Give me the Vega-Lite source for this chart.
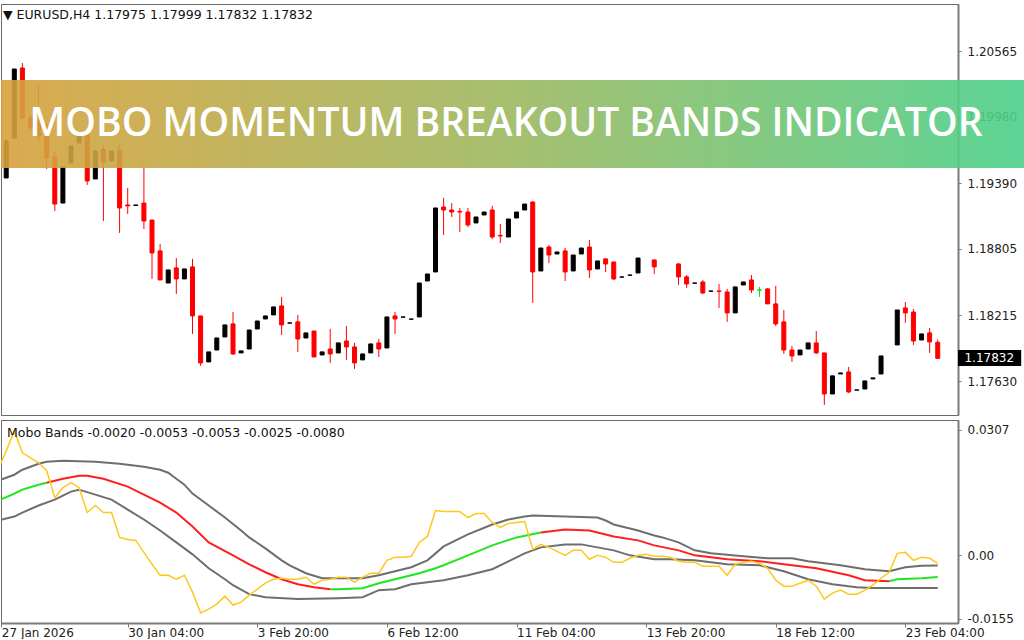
{
"$schema": "https://vega.github.io/schema/vega-lite/v6.json",
"background": "white",
"padding": {"left": 0, "right": 0, "top": 3, "bottom": 0},
"spacing": 3,
"config": {
 "view": {"stroke": "#6a6a6a", "strokeWidth": 1},
 "axis": {"labelFont": "DejaVu Sans", "labelFontSize": 12, "labelColor": "#222222", "domainColor": "#7a7a7a", "tickColor": "#7a7a7a", "grid": false, "title": null}
},
"datasets": {
 "candles": [
  {"i":1,"o":1.19436,"h":1.19780,"l":1.19436,"c":1.19765,"t":"bull"},
  {"i":2,"o":1.19791,"h":1.20405,"l":1.19791,"c":1.20405,"t":"bull"},
  {"i":3,"o":1.20414,"h":1.20458,"l":1.19960,"c":1.19969,"t":"bear"},
  {"i":4,"o":1.19969,"h":1.20000,"l":1.19850,"c":1.19880,"t":"bear"},
  {"i":5,"o":1.19951,"h":1.20254,"l":1.19765,"c":1.19809,"t":"bear"},
  {"i":6,"o":1.19898,"h":1.19925,"l":1.19516,"c":1.19614,"t":"bear"},
  {"i":7,"o":1.19622,"h":1.19676,"l":1.19142,"c":1.19204,"t":"bear"},
  {"i":8,"o":1.19213,"h":1.19534,"l":1.19213,"c":1.19534,"t":"bull"},
  {"i":9,"o":1.19569,"h":1.19720,"l":1.19569,"c":1.19720,"t":"bull"},
  {"i":10,"o":1.19747,"h":1.19818,"l":1.19747,"c":1.19818,"t":"bull"},
  {"i":11,"o":1.19836,"h":1.19871,"l":1.19374,"c":1.19409,"t":"bear"},
  {"i":12,"o":1.19427,"h":1.19676,"l":1.19427,"c":1.19676,"t":"bull"},
  {"i":13,"o":1.19694,"h":1.19729,"l":1.19053,"c":1.19578,"t":"bear"},
  {"i":14,"o":1.19587,"h":1.19676,"l":1.19587,"c":1.19676,"t":"bull"},
  {"i":15,"o":1.19685,"h":1.19738,"l":1.18947,"c":1.19169,"t":"bear"},
  {"i":16,"o":1.19196,"h":1.19347,"l":1.19116,"c":1.19187,"t":"bear"},
  {"i":17,"o":1.19191,"h":1.19196,"l":1.19191,"c":1.19196,"t":"bull"},
  {"i":18,"o":1.19213,"h":1.19543,"l":1.18982,"c":1.19053,"t":"bear"},
  {"i":19,"o":1.19062,"h":1.19062,"l":1.18538,"c":1.18769,"t":"bear"},
  {"i":20,"o":1.18787,"h":1.18849,"l":1.18529,"c":1.18529,"t":"bear"},
  {"i":21,"o":1.18502,"h":1.18618,"l":1.18502,"c":1.18618,"t":"bull"},
  {"i":22,"o":1.18636,"h":1.18724,"l":1.18404,"c":1.18538,"t":"bear"},
  {"i":23,"o":1.18538,"h":1.18627,"l":1.18538,"c":1.18627,"t":"bull"},
  {"i":24,"o":1.18645,"h":1.18716,"l":1.18049,"c":1.18209,"t":"bear"},
  {"i":25,"o":1.18209,"h":1.18209,"l":1.17765,"c":1.17791,"t":"bear"},
  {"i":26,"o":1.17800,"h":1.17889,"l":1.17800,"c":1.17889,"t":"bull"},
  {"i":27,"o":1.17906,"h":1.18013,"l":1.17906,"c":1.18013,"t":"bull"},
  {"i":28,"o":1.18022,"h":1.18129,"l":1.18022,"c":1.18129,"t":"bull"},
  {"i":29,"o":1.18138,"h":1.18244,"l":1.17862,"c":1.17871,"t":"bear"},
  {"i":30,"o":1.17880,"h":1.17898,"l":1.17880,"c":1.17898,"t":"bull"},
  {"i":31,"o":1.17915,"h":1.18084,"l":1.17915,"c":1.18084,"t":"bull"},
  {"i":32,"o":1.18093,"h":1.18164,"l":1.18093,"c":1.18164,"t":"bull"},
  {"i":33,"o":1.18182,"h":1.18209,"l":1.18182,"c":1.18209,"t":"bull"},
  {"i":34,"o":1.18218,"h":1.18289,"l":1.18218,"c":1.18289,"t":"bull"},
  {"i":35,"o":1.18298,"h":1.18378,"l":1.18040,"c":1.18129,"t":"bear"},
  {"i":36,"o":1.18145,"h":1.18147,"l":1.18145,"c":1.18147,"t":"bull"},
  {"i":37,"o":1.18156,"h":1.18218,"l":1.17889,"c":1.18004,"t":"bear"},
  {"i":38,"o":1.18013,"h":1.18058,"l":1.18013,"c":1.18058,"t":"bull"},
  {"i":39,"o":1.18075,"h":1.18075,"l":1.17844,"c":1.17844,"t":"bear"},
  {"i":40,"o":1.17862,"h":1.17889,"l":1.17862,"c":1.17889,"t":"bull"},
  {"i":41,"o":1.17915,"h":1.18093,"l":1.17791,"c":1.17871,"t":"bear"},
  {"i":42,"o":1.17880,"h":1.17969,"l":1.17880,"c":1.17969,"t":"bull"},
  {"i":43,"o":1.17986,"h":1.18120,"l":1.17818,"c":1.17933,"t":"bear"},
  {"i":44,"o":1.17933,"h":1.17969,"l":1.17738,"c":1.17791,"t":"bear"},
  {"i":45,"o":1.17818,"h":1.17871,"l":1.17818,"c":1.17871,"t":"bull"},
  {"i":46,"o":1.17880,"h":1.17960,"l":1.17880,"c":1.17960,"t":"bull"},
  {"i":47,"o":1.17969,"h":1.18004,"l":1.17844,"c":1.17915,"t":"bear"},
  {"i":48,"o":1.17924,"h":1.18200,"l":1.17924,"c":1.18200,"t":"bull"},
  {"i":49,"o":1.18209,"h":1.18244,"l":1.18049,"c":1.18182,"t":"bear"},
  {"i":50,"o":1.18198,"h":1.18200,"l":1.18198,"c":1.18200,"t":"bull"},
  {"i":51,"o":1.18180,"h":1.18182,"l":1.18180,"c":1.18182,"t":"bull"},
  {"i":52,"o":1.18200,"h":1.18502,"l":1.18200,"c":1.18502,"t":"bull"},
  {"i":53,"o":1.18520,"h":1.18582,"l":1.18520,"c":1.18582,"t":"bull"},
  {"i":54,"o":1.18600,"h":1.19169,"l":1.18600,"c":1.19169,"t":"bull"},
  {"i":55,"o":1.19178,"h":1.19258,"l":1.18929,"c":1.19151,"t":"bear"},
  {"i":56,"o":1.19151,"h":1.19213,"l":1.19089,"c":1.19133,"t":"bear"},
  {"i":57,"o":1.19138,"h":1.19169,"l":1.18956,"c":1.19133,"t":"bear"},
  {"i":58,"o":1.19133,"h":1.19169,"l":1.19000,"c":1.19018,"t":"bear"},
  {"i":59,"o":1.19036,"h":1.19089,"l":1.19036,"c":1.19089,"t":"bull"},
  {"i":60,"o":1.19107,"h":1.19133,"l":1.19107,"c":1.19133,"t":"bull"},
  {"i":61,"o":1.19151,"h":1.19187,"l":1.18893,"c":1.18911,"t":"bear"},
  {"i":62,"o":1.18925,"h":1.19027,"l":1.18858,"c":1.18920,"t":"bear"},
  {"i":63,"o":1.18911,"h":1.19071,"l":1.18911,"c":1.19071,"t":"bull"},
  {"i":64,"o":1.19080,"h":1.19133,"l":1.19080,"c":1.19133,"t":"bull"},
  {"i":65,"o":1.19151,"h":1.19204,"l":1.19151,"c":1.19204,"t":"bull"},
  {"i":66,"o":1.19222,"h":1.19231,"l":1.18324,"c":1.18600,"t":"bear"},
  {"i":67,"o":1.18609,"h":1.18813,"l":1.18609,"c":1.18813,"t":"bull"},
  {"i":68,"o":1.18822,"h":1.18840,"l":1.18680,"c":1.18751,"t":"bear"},
  {"i":69,"o":1.18760,"h":1.18778,"l":1.18760,"c":1.18778,"t":"bull"},
  {"i":70,"o":1.18787,"h":1.18813,"l":1.18520,"c":1.18600,"t":"bear"},
  {"i":71,"o":1.18609,"h":1.18751,"l":1.18609,"c":1.18751,"t":"bull"},
  {"i":72,"o":1.18760,"h":1.18813,"l":1.18760,"c":1.18813,"t":"bull"},
  {"i":73,"o":1.18822,"h":1.18884,"l":1.18547,"c":1.18618,"t":"bear"},
  {"i":74,"o":1.18627,"h":1.18698,"l":1.18627,"c":1.18698,"t":"bull"},
  {"i":75,"o":1.18716,"h":1.18724,"l":1.18600,"c":1.18671,"t":"bear"},
  {"i":76,"o":1.18689,"h":1.18689,"l":1.18529,"c":1.18538,"t":"bear"},
  {"i":77,"o":1.18554,"h":1.18556,"l":1.18554,"c":1.18556,"t":"bull"},
  {"i":78,"o":1.18571,"h":1.18573,"l":1.18571,"c":1.18573,"t":"bull"},
  {"i":79,"o":1.18591,"h":1.18724,"l":1.18591,"c":1.18724,"t":"bull"},
  {"i":81,"o":1.18707,"h":1.18707,"l":1.18582,"c":1.18645,"t":"bear"},
  {"i":84,"o":1.18671,"h":1.18680,"l":1.18484,"c":1.18556,"t":"bear"},
  {"i":85,"o":1.18556,"h":1.18573,"l":1.18458,"c":1.18493,"t":"bear"},
  {"i":86,"o":1.18500,"h":1.18502,"l":1.18500,"c":1.18502,"t":"bull"},
  {"i":87,"o":1.18511,"h":1.18529,"l":1.18404,"c":1.18413,"t":"bear"},
  {"i":88,"o":1.18429,"h":1.18431,"l":1.18429,"c":1.18431,"t":"bull"},
  {"i":89,"o":1.18431,"h":1.18493,"l":1.18280,"c":1.18427,"t":"bear"},
  {"i":90,"o":1.18422,"h":1.18449,"l":1.18156,"c":1.18236,"t":"bear"},
  {"i":91,"o":1.18236,"h":1.18467,"l":1.18236,"c":1.18467,"t":"bull"},
  {"i":92,"o":1.18484,"h":1.18511,"l":1.18484,"c":1.18511,"t":"bull"},
  {"i":93,"o":1.18529,"h":1.18573,"l":1.18413,"c":1.18440,"t":"bear"},
  {"i":94,"o":1.18441,"h":1.18467,"l":1.18378,"c":1.18439,"t":"flat"},
  {"i":95,"o":1.18449,"h":1.18458,"l":1.18316,"c":1.18316,"t":"bear"},
  {"i":96,"o":1.18316,"h":1.18476,"l":1.18120,"c":1.18138,"t":"bear"},
  {"i":97,"o":1.18156,"h":1.18262,"l":1.17871,"c":1.17906,"t":"bear"},
  {"i":98,"o":1.17906,"h":1.17942,"l":1.17800,"c":1.17853,"t":"bear"},
  {"i":99,"o":1.17862,"h":1.17906,"l":1.17862,"c":1.17906,"t":"bull"},
  {"i":100,"o":1.17915,"h":1.17969,"l":1.17915,"c":1.17969,"t":"bull"},
  {"i":101,"o":1.17969,"h":1.18075,"l":1.17871,"c":1.17880,"t":"bear"},
  {"i":102,"o":1.17880,"h":1.17880,"l":1.17417,"c":1.17515,"t":"bear"},
  {"i":103,"o":1.17515,"h":1.17676,"l":1.17515,"c":1.17676,"t":"bull"},
  {"i":104,"o":1.17693,"h":1.17702,"l":1.17693,"c":1.17702,"t":"bull"},
  {"i":105,"o":1.17711,"h":1.17756,"l":1.17524,"c":1.17533,"t":"bear"},
  {"i":106,"o":1.17549,"h":1.17551,"l":1.17549,"c":1.17551,"t":"bull"},
  {"i":107,"o":1.17559,"h":1.17631,"l":1.17559,"c":1.17631,"t":"bull"},
  {"i":108,"o":1.17649,"h":1.17658,"l":1.17649,"c":1.17658,"t":"bull"},
  {"i":109,"o":1.17693,"h":1.17853,"l":1.17693,"c":1.17853,"t":"bull"},
  {"i":111,"o":1.17951,"h":1.18262,"l":1.17951,"c":1.18262,"t":"bull"},
  {"i":112,"o":1.18280,"h":1.18333,"l":1.18147,"c":1.18236,"t":"bear"},
  {"i":113,"o":1.18244,"h":1.18271,"l":1.17951,"c":1.17986,"t":"bear"},
  {"i":114,"o":1.17995,"h":1.18049,"l":1.17995,"c":1.18049,"t":"bull"},
  {"i":115,"o":1.18058,"h":1.18102,"l":1.17880,"c":1.17978,"t":"bear"},
  {"i":116,"o":1.17975,"h":1.17999,"l":1.17832,"c":1.17832,"t":"bear"}
 ],
 "mom": [
  {"i":0,"v":0.02100},{"i":1,"v":0.02559},{"i":2,"v":0.03046},{"i":3,"v":0.02510},{"i":4,"v":0.02388},{"i":5,"v":0.02266},{"i":6,"v":0.02071},{"i":7,"v":0.01413},{"i":8,"v":0.01657},{"i":9,"v":0.01779},{"i":10,"v":0.01657},{"i":11,"v":0.01048},{"i":12,"v":0.01219},{"i":13,"v":0.01048},{"i":14,"v":0.01048},{"i":15,"v":0.00439},{"i":16,"v":0.00390},{"i":17,"v":0.00366},{"i":18,"v":0.00073},{"i":19,"v":-0.00219},{"i":20,"v":-0.00487},{"i":21,"v":-0.00487},{"i":22,"v":-0.00585},{"i":23,"v":-0.00487},{"i":24,"v":-0.00902},{"i":25,"v":-0.01413},{"i":26,"v":-0.01316},{"i":27,"v":-0.01194},{"i":28,"v":-0.00999},{"i":29,"v":-0.01218},{"i":30,"v":-0.01145},{"i":31,"v":-0.00975},{"i":32,"v":-0.00829},{"i":33,"v":-0.00682},{"i":34,"v":-0.00585},{"i":35,"v":-0.00561},{"i":36,"v":-0.00585},{"i":37,"v":-0.00585},{"i":38,"v":-0.00536},{"i":39,"v":-0.00707},{"i":40,"v":-0.00609},{"i":41,"v":-0.00585},{"i":42,"v":-0.00536},{"i":43,"v":-0.00536},{"i":44,"v":-0.00658},{"i":45,"v":-0.00536},{"i":46,"v":-0.00439},{"i":47,"v":-0.00439},{"i":48,"v":-0.00122},{"i":49,"v":-0.00049},{"i":50,"v":-0.00049},{"i":51,"v":-0.00024},{"i":52,"v":0.00317},{"i":53,"v":0.00463},{"i":54,"v":0.01097},{"i":55,"v":0.01072},{"i":56,"v":0.01072},{"i":57,"v":0.01072},{"i":58,"v":0.00926},{"i":59,"v":0.01024},{"i":60,"v":0.01024},{"i":61,"v":0.00804},{"i":62,"v":0.00682},{"i":63,"v":0.00780},{"i":64,"v":0.00804},{"i":65,"v":0.00829},{"i":66,"v":0.00146},{"i":67,"v":0.00268},{"i":68,"v":0.00195},{"i":69,"v":0.00097},{"i":70,"v":0},{"i":71,"v":0.00122},{"i":72,"v":0.00122},{"i":73,"v":-0.00097},{"i":74,"v":0},{"i":75,"v":-0.00049},{"i":76,"v":-0.00171},{"i":77,"v":-0.00171},{"i":78,"v":-0.00073},{"i":79,"v":0},{"i":80,"v":0.00024},{"i":81,"v":-0.00024},{"i":82,"v":-0.00024},{"i":83,"v":-0.00049},{"i":84,"v":-0.00146},{"i":85,"v":-0.00171},{"i":86,"v":-0.00171},{"i":87,"v":-0.00268},{"i":88,"v":-0.00268},{"i":89,"v":-0.00268},{"i":90,"v":-0.00487},{"i":91,"v":-0.00219},{"i":92,"v":-0.00171},{"i":93,"v":-0.00146},{"i":94,"v":-0.00195},{"i":95,"v":-0.00317},{"i":96,"v":-0.00609},{"i":97,"v":-0.00755},{"i":98,"v":-0.00755},{"i":99,"v":-0.00682},{"i":100,"v":-0.00609},{"i":101,"v":-0.00755},{"i":102,"v":-0.01072},{"i":103,"v":-0.00926},{"i":104,"v":-0.00853},{"i":105,"v":-0.00950},{"i":106,"v":-0.00950},{"i":107,"v":-0.00853},{"i":108,"v":-0.00731},{"i":109,"v":-0.00561},{"i":110,"v":-0.00414},{"i":111,"v":0.00049},{"i":112,"v":0.00073},{"i":113,"v":-0.00122},{"i":114,"v":-0.00049},{"i":115,"v":-0.00073},{"i":116,"v":-0.00195}
 ],
 "up": [
  {"i":0,"v":0.01828},{"i":2,"v":0.01974},{"i":3,"v":0.02096},{"i":5,"v":0.02242},{"i":6,"v":0.02291},{"i":8,"v":0.02315},{"i":12,"v":0.02291},{"i":15,"v":0.02242},{"i":18,"v":0.02169},{"i":20,"v":0.02096},{"i":21,"v":0.02023},{"i":22,"v":0.01877},{"i":23,"v":0.01730},{"i":24,"v":0.01511},{"i":26,"v":0.01219},{"i":28,"v":0.00926},{"i":30,"v":0.00609},{"i":31,"v":0.00439},{"i":33,"v":0.00171},{"i":35,"v":-0.00122},{"i":36,"v":-0.00244},{"i":38,"v":-0.00439},{"i":40,"v":-0.00561},{"i":45,"v":-0.00561},{"i":47,"v":-0.00487},{"i":48,"v":-0.00439},{"i":51,"v":-0.00292},{"i":53,"v":-0.00122},{"i":55,"v":0.00219},{"i":57,"v":0.00414},{"i":58,"v":0.00512},{"i":61,"v":0.00755},{"i":63,"v":0.00877},{"i":65,"v":0.00950},{"i":66,"v":0.00975},{"i":70,"v":0.00950},{"i":74,"v":0.00926},{"i":75,"v":0.00853},{"i":76,"v":0.00755},{"i":79,"v":0.00609},{"i":81,"v":0.00487},{"i":82,"v":0.00439},{"i":84,"v":0.00317},{"i":86,"v":0.00122},{"i":88,"v":0.00049},{"i":92,"v":-0.00024},{"i":95,"v":-0.00073},{"i":98,"v":-0.00073},{"i":100,"v":-0.00146},{"i":104,"v":-0.00244},{"i":107,"v":-0.00341},{"i":110,"v":-0.00390},{"i":111,"v":-0.00341},{"i":112,"v":-0.00292},{"i":114,"v":-0.00255},{"i":116,"v":-0.00250}
 ],
 "lo": [
  {"i":0,"v":0.00853},{"i":2,"v":0.00950},{"i":3,"v":0.01048},{"i":5,"v":0.01219},{"i":7,"v":0.01365},{"i":8,"v":0.01462},{"i":9,"v":0.01560},{"i":10,"v":0.01608},{"i":12,"v":0.01487},{"i":14,"v":0.01365},{"i":16,"v":0.01121},{"i":18,"v":0.00877},{"i":20,"v":0.00609},{"i":22,"v":0.00317},{"i":24,"v":0.00024},{"i":26,"v":-0.00317},{"i":28,"v":-0.00585},{"i":29,"v":-0.00731},{"i":31,"v":-0.00950},{"i":33,"v":-0.01024},{"i":37,"v":-0.01072},{"i":42,"v":-0.01048},{"i":45,"v":-0.01024},{"i":47,"v":-0.00853},{"i":49,"v":-0.00829},{"i":51,"v":-0.00707},{"i":55,"v":-0.00609},{"i":58,"v":-0.00487},{"i":61,"v":-0.00341},{"i":63,"v":-0.00146},{"i":65,"v":0.00049},{"i":67,"v":0.00195},{"i":70,"v":0.00268},{"i":72,"v":0.00268},{"i":76,"v":0.00122},{"i":78,"v":0},{"i":81,"v":-0.00097},{"i":83,"v":-0.00097},{"i":86,"v":-0.00122},{"i":90,"v":-0.00219},{"i":94,"v":-0.00244},{"i":97,"v":-0.00390},{"i":100,"v":-0.00585},{"i":103,"v":-0.00707},{"i":106,"v":-0.00780},{"i":108,"v":-0.00800},{"i":116,"v":-0.00800}
 ],
 "mid": [
  {"i":0,"v":0.01340,"seg":"a","tr":"up"},{"i":2,"v":0.01511,"seg":"a","tr":"up"},{"i":3,"v":0.01608,"seg":"a","tr":"up"},{"i":5,"v":0.01730,"seg":"a","tr":"up"},{"i":6,"v":0.01779,"seg":"a","tr":"up"},
  {"i":6,"v":0.01779,"seg":"b","tr":"down"},{"i":8,"v":0.01876,"seg":"b","tr":"down"},{"i":10,"v":0.01950,"seg":"b","tr":"down"},{"i":11,"v":0.01950,"seg":"b","tr":"down"},{"i":13,"v":0.01876,"seg":"b","tr":"down"},{"i":16,"v":0.01682,"seg":"b","tr":"down"},{"i":18,"v":0.01487,"seg":"b","tr":"down"},{"i":20,"v":0.01292,"seg":"b","tr":"down"},{"i":22,"v":0.01048,"seg":"b","tr":"down"},{"i":24,"v":0.00707,"seg":"b","tr":"down"},{"i":26,"v":0.00317,"seg":"b","tr":"down"},{"i":29,"v":0,"seg":"b","tr":"down"},{"i":31,"v":-0.00219,"seg":"b","tr":"down"},{"i":33,"v":-0.00414,"seg":"b","tr":"down"},{"i":35,"v":-0.00585,"seg":"b","tr":"down"},{"i":37,"v":-0.00707,"seg":"b","tr":"down"},{"i":39,"v":-0.00780,"seg":"b","tr":"down"},{"i":41,"v":-0.00829,"seg":"b","tr":"down"},
  {"i":41,"v":-0.00829,"seg":"c","tr":"up"},{"i":42,"v":-0.00829,"seg":"c","tr":"up"},{"i":45,"v":-0.00804,"seg":"c","tr":"up"},{"i":47,"v":-0.00682,"seg":"c","tr":"up"},{"i":49,"v":-0.00585,"seg":"c","tr":"up"},{"i":52,"v":-0.00439,"seg":"c","tr":"up"},{"i":54,"v":-0.00317,"seg":"c","tr":"up"},{"i":55,"v":-0.00244,"seg":"c","tr":"up"},{"i":58,"v":0,"seg":"c","tr":"up"},{"i":61,"v":0.00244,"seg":"c","tr":"up"},{"i":64,"v":0.00439,"seg":"c","tr":"up"},{"i":67,"v":0.00561,"seg":"c","tr":"up"},
  {"i":67,"v":0.00561,"seg":"d","tr":"down"},{"i":70,"v":0.00634,"seg":"d","tr":"down"},{"i":73,"v":0.00609,"seg":"d","tr":"down"},{"i":75,"v":0.00512,"seg":"d","tr":"down"},{"i":76,"v":0.00463,"seg":"d","tr":"down"},{"i":79,"v":0.00366,"seg":"d","tr":"down"},{"i":81,"v":0.00244,"seg":"d","tr":"down"},{"i":84,"v":0.00122,"seg":"d","tr":"down"},{"i":86,"v":0,"seg":"d","tr":"down"},{"i":90,"v":-0.00097,"seg":"d","tr":"down"},{"i":94,"v":-0.00146,"seg":"d","tr":"down"},{"i":97,"v":-0.00219,"seg":"d","tr":"down"},{"i":101,"v":-0.00317,"seg":"d","tr":"down"},{"i":105,"v":-0.00487,"seg":"d","tr":"down"},{"i":107,"v":-0.00609,"seg":"d","tr":"down"},{"i":110,"v":-0.00634,"seg":"d","tr":"down"},
  {"i":110,"v":-0.00634,"seg":"e","tr":"up"},{"i":111,"v":-0.00585,"seg":"e","tr":"up"},{"i":114,"v":-0.00561,"seg":"e","tr":"up"},{"i":116,"v":-0.00530,"seg":"e","tr":"up"}
 ]
},
"vconcat": [
 {
  "width": 957,
  "height": 411,
  "layer": [
   {
    "data": {"name": "candles"},
    "mark": {"type": "rule", "strokeWidth": 1},
    "encoding": {
     "x": {"field": "i", "type": "quantitative", "scale": {"domain": [0.358, 118.5], "nice": false, "zero": false, "padding": 0}, "axis": null},
     "y": {"field": "l", "type": "quantitative", "scale": {"domain": [1.17328, 1.20983], "nice": false, "zero": false, "padding": 0},
           "axis": {"orient": "right", "values": [1.20565, 1.1998, 1.1939, 1.18805, 1.18215, 1.1763], "format": ".5f", "tickSize": 3, "labelPadding": 6, "domainWidth": 2, "title": null}},
     "y2": {"field": "h"},
     "color": {"field": "t", "type": "nominal", "scale": {"domain": ["bull", "bear", "flat"], "range": ["#000000", "#ff0000", "#00e000"]}, "legend": null}
    }
   },
   {
    "data": {"name": "candles"},
    "mark": {"type": "bar", "width": 4, "strokeWidth": 1},
    "encoding": {
     "x": {"field": "i", "type": "quantitative", "axis": null},
     "y": {"field": "o", "type": "quantitative"},
     "y2": {"field": "c"},
     "color": {"field": "t", "type": "nominal", "scale": {"domain": ["bull", "bear", "flat"], "range": ["#000000", "#ff0000", "#00e000"]}, "legend": null},
     "stroke": {"field": "t", "type": "nominal", "scale": {"domain": ["bull", "bear", "flat"], "range": ["#000000", "#ff0000", "#00e000"]}, "legend": null}
    }
   },
   {
    "data": {"values": [{}]},
    "mark": {"type": "rect", "opacity": 0.9, "color": {"gradient": "linear", "x1": 0, "y1": 0, "x2": 1, "y2": 0, "stops": [{"offset": 0, "color": "#d7a13b"}, {"offset": 0.5, "color": "#9cb860"}, {"offset": 1, "color": "#4bd08a"}]}},
    "encoding": {
     "x": {"datum": 0.358, "type": "quantitative", "axis": null},
     "x2": {"datum": 126.8},
     "y": {"datum": 1.20307, "type": "quantitative"},
     "y2": {"datum": 1.19525}
    }
   },
   {
    "data": {"values": [{}]},
    "mark": {"type": "text", "text": "MOBO MOMENTUM BREAKOUT BANDS INDICATOR", "font": "Open Sans", "fontSize": 39, "fontWeight": 600, "color": "#ffffff", "align": "center", "baseline": "alphabetic"},
    "encoding": {
     "x": {"datum": 62.7, "type": "quantitative", "axis": null},
     "y": {"datum": 1.19809, "type": "quantitative"}
    }
   },
   {
    "data": {"values": [{}]},
    "mark": {"type": "text", "text": "▼ EURUSD,H4  1.17975 1.17999 1.17832 1.17832", "font": "DejaVu Sans", "fontSize": 12.5, "color": "#111111", "align": "left", "baseline": "middle"},
    "encoding": {
     "x": {"datum": 0.6, "type": "quantitative", "axis": null},
     "y": {"datum": 1.20885, "type": "quantitative"}
    }
   },
   {
    "data": {"values": [{}]},
    "mark": {"type": "rect", "color": "#000000"},
    "encoding": {
     "x": {"datum": 118.5, "type": "quantitative", "axis": null},
     "x2": {"datum": 126.3},
     "y": {"datum": 1.17906, "type": "quantitative"},
     "y2": {"datum": 1.17764}
    }
   },
   {
    "data": {"values": [{}]},
    "mark": {"type": "text", "text": "1.17832", "font": "DejaVu Sans", "fontSize": 12, "color": "#ffffff", "align": "left", "baseline": "middle"},
    "encoding": {
     "x": {"datum": 119.3, "type": "quantitative", "axis": null},
     "y": {"datum": 1.17834, "type": "quantitative"}
    }
   }
  ]
 },
 {
  "width": 957,
  "height": 203,
  "layer": [
   {
    "data": {"name": "up"},
    "mark": {"type": "line", "color": "#6e6e6e", "strokeWidth": 2, "clip": true},
    "encoding": {
     "x": {"field": "i", "type": "quantitative", "scale": {"domain": [0.358, 118.5], "nice": false, "zero": false, "padding": 0},
           "axis": {"orient": "bottom", "values": [0.4, 16, 32, 48, 64, 80, 96, 112], "labelExpr": "datum.value < 1 ? '27 Jan 2026' : datum.value == 16 ? '30 Jan 04:00' : datum.value == 32 ? '3 Feb 20:00' : datum.value == 48 ? '6 Feb 12:00' : datum.value == 64 ? '11 Feb 04:00' : datum.value == 80 ? '13 Feb 20:00' : datum.value == 96 ? '18 Feb 12:00' : '23 Feb 04:00'", "labelAlign": "left", "labelBaseline": "top", "labelFlush": false, "labelOverlap": false, "tickSize": 4, "labelPadding": 0, "domainWidth": 2, "title": null}},
     "y": {"field": "v", "type": "quantitative", "scale": {"domain": [-0.01657, 0.03314], "nice": false, "zero": false, "padding": 0},
           "axis": {"orient": "right", "values": [0.0307, 0, -0.0155], "labelExpr": "datum.value > 0.01 ? '0.0307' : datum.value < -0.01 ? '-0.0155' : '0.00'", "tickSize": 3, "labelPadding": 6, "domainWidth": 2, "title": null}}
    }
   },
   {
    "data": {"name": "lo"},
    "mark": {"type": "line", "color": "#6e6e6e", "strokeWidth": 2, "clip": true},
    "encoding": {
     "x": {"field": "i", "type": "quantitative"},
     "y": {"field": "v", "type": "quantitative"}
    }
   },
   {
    "data": {"name": "mid"},
    "transform": [{"filter": "datum.tr == 'up'"}],
    "mark": {"type": "line", "color": "#1fe61f", "strokeWidth": 2, "clip": true},
    "encoding": {
     "x": {"field": "i", "type": "quantitative"},
     "y": {"field": "v", "type": "quantitative"},
     "detail": {"field": "seg"}
    }
   },
   {
    "data": {"name": "mid"},
    "transform": [{"filter": "datum.tr == 'down'"}],
    "mark": {"type": "line", "color": "#ff1e1e", "strokeWidth": 2, "clip": true},
    "encoding": {
     "x": {"field": "i", "type": "quantitative"},
     "y": {"field": "v", "type": "quantitative"},
     "detail": {"field": "seg"}
    }
   },
   {
    "data": {"name": "mom"},
    "mark": {"type": "line", "color": "#ffc81e", "strokeWidth": 1.5, "clip": true},
    "encoding": {
     "x": {"field": "i", "type": "quantitative"},
     "y": {"field": "v", "type": "quantitative"}
    }
   },
   {
    "data": {"values": [{}]},
    "mark": {"type": "text", "text": "Mobo Bands -0.0020 -0.0053 -0.0053 -0.0025 -0.0080", "font": "DejaVu Sans", "fontSize": 12.5, "color": "#111111", "align": "left", "baseline": "middle"},
    "encoding": {
     "x": {"datum": 1.1, "type": "quantitative"},
     "y": {"datum": 0.02997, "type": "quantitative"}
    }
   }
  ]
 }
]
}
